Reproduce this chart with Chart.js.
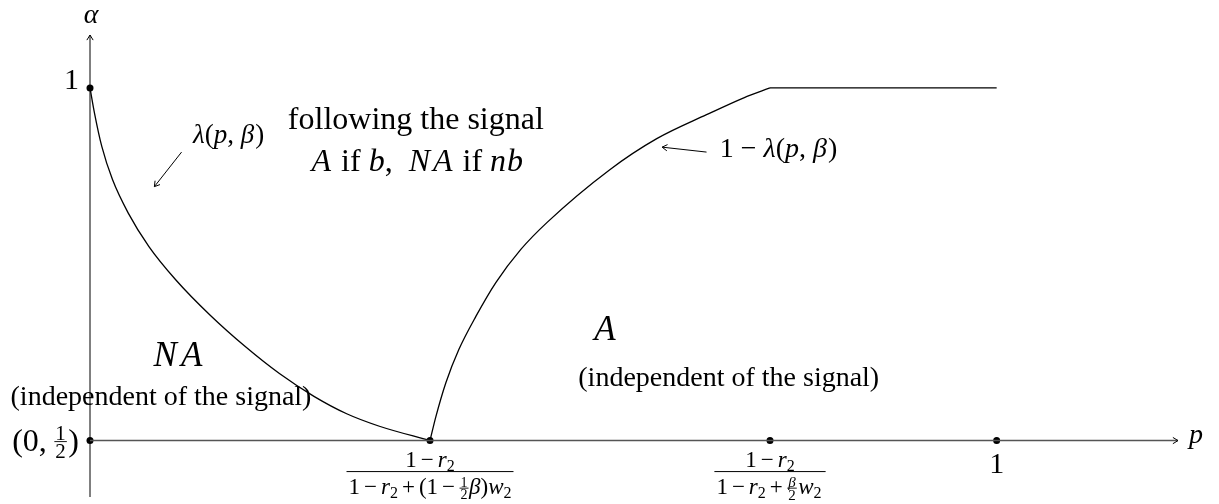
<!DOCTYPE html>
<html>
<head>
<meta charset="utf-8">
<script src="https://cdn.jsdelivr.net/npm/chart.js@4.4.1/dist/chart.umd.min.js"></script>
<style>
  html, body { margin: 0; padding: 0; background: #fff; }
  #wrap { width: 1219px; height: 504px; position: relative; }
</style>
</head>
<body>
<div id="wrap"><canvas id="region-chart"></canvas></div>
<script>
// lambda(p, beta): falls from alpha = 1 down to the first threshold
const lambdaP = [0, 0.005, 0.013, 0.0248, 0.0422, 0.065, 0.0945, 0.1323, 0.1709, 0.2089, 0.247, 0.2831, 0.3192, 0.375];
const lambdaA = [1, 0.964, 0.917, 0.870, 0.8225, 0.775, 0.728, 0.678, 0.6336, 0.595, 0.5627, 0.538, 0.5203, 0.5];

// 1 - lambda(p, beta): rises from the first threshold up to alpha = 1
const upperP = [0.375, 0.3815, 0.3925, 0.4068, 0.4256, 0.4476, 0.4752, 0.5039, 0.5733, 0.6251, 0.6800, 0.7211, 0.75];
const upperA = [0.5, 0.534, 0.582, 0.629, 0.676, 0.724, 0.771, 0.809, 0.884, 0.928, 0.962, 0.986, 1];

// alpha stays at 1 after the second threshold
const flatP = [0.75, 1];
const flatA = [1, 1];

// marked points
const dotP = [0, 0, 0.375, 0.75, 1];
const dotA = [1, 0.5, 0.5, 0.5, 0.5];

// positions of the p-axis labels
const tickP = [0.375, 0.75, 1];

const SERIF = '"Liberation Serif", "Times New Roman", serif';

function pts(xs, ys) {
  return xs.map((x, i) => ({ x: x, y: ys[i] }));
}

// --- small rich-text helper: runs of plain / italic / sub / inline fractions ---
function fontOf(r) {
  return (r.it ? 'italic ' : '') + r.s + 'px ' + SERIF;
}

function runsWidth(ctx, runs) {
  let w = 0;
  runs.forEach(r => {
    if (r.fr) {
      w += Math.max(runsWidth(ctx, r.fr[0]), runsWidth(ctx, r.fr[1])) + 3;
    } else {
      ctx.font = fontOf(r);
      w += ctx.measureText(r.t).width + (r.pad || 0) + (r.lpad || 0);
    }
  });
  return w;
}

function drawRuns(ctx, runs, x, y) {
  runs.forEach(r => {
    if (r.fr) {
      const wn = runsWidth(ctx, r.fr[0]);
      const wd = runsWidth(ctx, r.fr[1]);
      const w = Math.max(wn, wd) + 3;
      const barY = y - (r.bar != null ? r.bar : r.s * 0.4);
      const gap = r.gap != null ? r.gap : 1.5;
      ctx.fillRect(x + 0.5, barY - 0.4, w - 1, 0.9);
      drawRuns(ctx, r.fr[0], x + (w - wn) / 2, barY - gap);
      drawRuns(ctx, r.fr[1], x + (w - wd) / 2, barY + gap + r.s * 0.68);
      x += w;
    } else {
      ctx.font = fontOf(r);
      x += r.lpad || 0;
      ctx.fillText(r.t, x, y + (r.dy || 0));
      x += ctx.measureText(r.t).width + (r.pad || 0);
    }
  });
}

function drawRunsAligned(ctx, runs, x, y, align) {
  const w = runsWidth(ctx, runs);
  let x0 = x;
  if (align === 'center') x0 = x - w / 2;
  if (align === 'right') x0 = x - w;
  drawRuns(ctx, runs, x0, y);
}

function arrowHead(ctx, x1, y1, x2, y2, len) {
  const a = Math.atan2(y2 - y1, x2 - x1);
  ctx.beginPath();
  ctx.moveTo(x2 - len * Math.cos(a - 0.55), y2 - len * Math.sin(a - 0.55));
  ctx.lineTo(x2, y2);
  ctx.lineTo(x2 - len * Math.cos(a + 0.55), y2 - len * Math.sin(a + 0.55));
  ctx.stroke();
}

function arrow(ctx, x1, y1, x2, y2) {
  ctx.beginPath();
  ctx.moveTo(x1, y1);
  ctx.lineTo(x2, y2);
  ctx.stroke();
  arrowHead(ctx, x1, y1, x2, y2, 6);
}

// label runs (fractions under the p axis)
const FS = 23;
const minus = { t: '\u2212', s: FS, lpad: 4, pad: 4 };
const plus = { t: '+', s: FS, lpad: 4, pad: 4 };
const num = [{ t: '1', s: FS }, minus, { t: 'r', s: FS, it: 1 }, { t: '2', s: 16, dy: 4 }];
const denLow = [
  { t: '1', s: FS }, minus, { t: 'r', s: FS, it: 1 }, { t: '2', s: 16, dy: 4 },
  plus, { t: '(1', s: FS }, minus,
  { fr: [[{ t: '1', s: 14 }], [{ t: '2', s: 14 }]], s: 14, bar: 5.5, gap: 1.5 },
  { t: '\u03b2', s: FS, it: 1 }, { t: ')', s: FS }, { t: 'w', s: FS, it: 1 }, { t: '2', s: 16, dy: 4 }
];
const denHigh = [
  { t: '1', s: FS }, minus, { t: 'r', s: FS, it: 1 }, { t: '2', s: 16, dy: 4 },
  plus,
  { fr: [[{ t: '\u03b2', s: 15, it: 1 }], [{ t: '2', s: 15 }]], s: 15, bar: 5.5, gap: 1.5 },
  { t: 'w', s: FS, it: 1, lpad: 1 }, { t: '2', s: 16, dy: 4, pad: 2 }
];
const tickLabels = [
  { num: num, den: denLow },
  { num: num, den: denHigh },
  { text: '1' }
];

const diagramText = {
  id: 'diagramText',
  afterDraw(chart) {
    const ctx = chart.ctx;
    const xs = chart.scales.x;
    const ys = chart.scales.y;
    const X = v => xs.getPixelForValue(v);
    const Y = v => ys.getPixelForValue(v);
    const x0 = X(0), yh = Y(0.5);

    ctx.save();
    ctx.fillStyle = '#000';
    ctx.strokeStyle = '#000';
    ctx.textBaseline = 'alphabetic';
    ctx.lineWidth = 1;

    // axes
    ctx.beginPath();
    ctx.moveTo(x0, Y(ys.min));
    ctx.lineTo(x0, Y(ys.max));
    ctx.stroke();
    arrowHead(ctx, x0, Y(ys.min), x0, Y(ys.max), 6);
    ctx.strokeStyle = '#555';
    ctx.lineWidth = 1.6;
    ctx.beginPath();
    ctx.moveTo(x0, yh);
    ctx.lineTo(X(xs.max), yh);
    ctx.stroke();
    ctx.lineWidth = 1;
    ctx.strokeStyle = '#000';
    arrowHead(ctx, x0, yh, X(xs.max), yh, 6);

    // axis names
    drawRunsAligned(ctx, [{ t: '\u03b1', s: 28, it: 1 }], x0 + 1, Y(ys.max) - 12, 'center');
    drawRunsAligned(ctx, [{ t: 'p', s: 28, it: 1 }], X(xs.max) + 11, yh + 2, 'left');

    // alpha-axis labels
    drawRunsAligned(ctx, [{ t: '1', s: 30 }], x0 - 11, Y(1) + 1, 'right');
    drawRunsAligned(ctx, [
      { t: '(0,', s: 32, pad: 7 },
      { fr: [[{ t: '1', s: 21 }], [{ t: '2', s: 21 }]], s: 21, bar: 9, gap: 2 },
      { t: ')', s: 32, lpad: 1 }
    ], x0 - 11, yh + 10, 'right');

    // p-axis labels
    tickP.forEach((p, i) => {
      const lab = tickLabels[i];
      const cx = X(p);
      if (lab.text) {
        drawRunsAligned(ctx, [{ t: lab.text, s: 30 }], cx, yh + 32, 'center');
        return;
      }
      const wn = runsWidth(ctx, lab.num);
      const wd = runsWidth(ctx, lab.den);
      const w = Math.max(wn, wd) + 4;
      drawRunsAligned(ctx, lab.num, cx, yh + 26, 'center');
      ctx.fillRect(cx - w / 2, yh + 30.5, w, 1);
      drawRunsAligned(ctx, lab.den, cx, yh + 53, 'center');
    });

    // curve names with pointers
    drawRunsAligned(ctx, [
      { t: '\u03bb', s: 27, it: 1 }, { t: '(', s: 27 }, { t: 'p', s: 27, it: 1 },
      { t: ', ', s: 27 }, { t: '\u03b2', s: 27, it: 1, pad: 1 }, { t: ')', s: 27 }
    ], X(0.1136), Y(0.922), 'left');
    arrow(ctx, X(0.101), Y(0.909), X(0.071), Y(0.860));

    drawRunsAligned(ctx, [
      { t: '1', s: 28 }, { t: '\u2212', s: 28, lpad: 7, pad: 7 }, { t: '\u03bb', s: 28, it: 1 }, { t: '(', s: 28 },
      { t: 'p', s: 28, it: 1 }, { t: ', ', s: 28 }, { t: '\u03b2', s: 28, it: 1, pad: 1 }, { t: ')', s: 28 }
    ], X(0.6946), Y(0.902), 'left');
    arrow(ctx, X(0.680), Y(0.909), X(0.631), Y(0.916));

    // region names
    drawRunsAligned(ctx, [{ t: 'following the signal', s: 32 }], X(0.3594), Y(0.942), 'center');
    drawRunsAligned(ctx, [
      { t: 'A', s: 32, it: 1, pad: 2 }, { t: ' if ', s: 32 }, { t: 'b', s: 32, it: 1 },
      { t: ',', s: 32, pad: 16 }, { t: 'N', s: 32, it: 1, pad: 3 }, { t: 'A', s: 32, it: 1, pad: 2 },
      { t: ' if ', s: 32 }, { t: 'n', s: 32, it: 1, pad: 1 }, { t: 'b', s: 32, it: 1 }
    ], X(0.361), Y(0.882), 'center');

    drawRunsAligned(ctx, [{ t: 'N', s: 35, it: 1, pad: 4 }, { t: 'A', s: 35, it: 1 }], X(0.097), Y(0.606), 'center');
    drawRunsAligned(ctx, [{ t: '(independent of the signal)', s: 28 }], X(0.0783), Y(0.551), 'center');

    drawRunsAligned(ctx, [{ t: 'A', s: 35, it: 1 }], X(0.568), Y(0.643), 'center');
    drawRunsAligned(ctx, [{ t: '(independent of the signal)', s: 28 }], X(0.7045), Y(0.578), 'center');

    ctx.restore();
  }
};

const curveStyle = {
  showLine: true,
  pointRadius: 0,
  borderColor: '#000',
  borderWidth: 1.3,
  cubicInterpolationMode: 'monotone',
  fill: false,
  clip: false
};

new Chart(document.getElementById('region-chart'), {
  type: 'scatter',
  data: {
    datasets: [
      Object.assign({ label: 'lambda', data: pts(lambdaP, lambdaA) }, curveStyle),
      Object.assign({ label: '1 - lambda', data: pts(upperP, upperA) }, curveStyle),
      Object.assign({ label: 'flat', data: pts(flatP, flatA) }, curveStyle, { cubicInterpolationMode: 'default', tension: 0 }),
      {
        label: 'points',
        data: pts(dotP, dotA),
        showLine: false,
        clip: false,
        pointRadius: 3.5,
        pointBackgroundColor: '#000',
        pointBorderColor: '#000',
        pointBorderWidth: 0
      }
    ]
  },
  options: {
    responsive: true,
    maintainAspectRatio: false,
    animation: false,
    layout: { padding: { left: 90, right: 41, top: 35, bottom: 7 } },
    scales: {
      x: { type: 'linear', min: 0, max: 1.2, display: false },
      y: { type: 'linear', min: 0.42, max: 1.075, display: false }
    },
    plugins: {
      legend: { display: false },
      tooltip: { enabled: false }
    }
  },
  plugins: [diagramText]
});
</script>
</body>
</html>
